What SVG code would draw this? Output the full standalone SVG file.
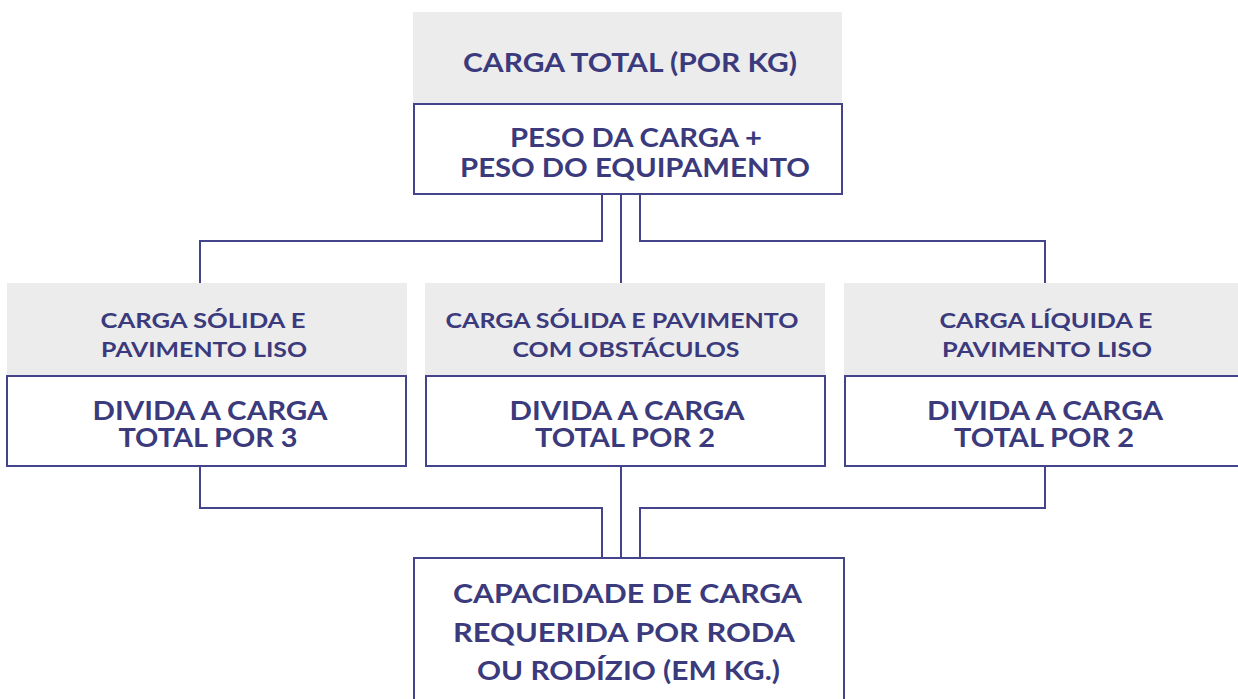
<svg xmlns="http://www.w3.org/2000/svg" width="1238" height="699" viewBox="0 0 1238 699">
<style>
.hdr{fill:#ececec;}
.box{fill:#ffffff;stroke:#44448a;stroke-width:2;}
.conn{fill:none;stroke:#44448a;stroke-width:2;}
text{font-family:Lato,"Open Sans","Liberation Sans",sans-serif;font-weight:bold;fill:#3a3a7c;text-anchor:middle;}
.t26{font-size:26.5px;}
.t21{font-size:21px;}
.t28{font-size:27px;}
</style>
<rect width="1238" height="699" fill="#ffffff"/>
<g id="connectors">
<path class="conn" d="M602 194 V241 H200 V283"/>
<path class="conn" d="M621 194 V283"/>
<path class="conn" d="M640 194 V241 H1045 V283"/>
<path class="conn" d="M200 466 V508 H602 V558"/>
<path class="conn" d="M621 466 V558"/>
<path class="conn" d="M1045 466 V508 H640 V558"/>
</g>
<g id="top">
<rect class="hdr" x="413" y="12" width="429" height="91"/>
<rect class="box" x="414" y="104" width="428" height="90"/>
<text class="t26" x="630" y="72" textLength="334" lengthAdjust="spacingAndGlyphs">CARGA TOTAL (POR KG)</text>
<text class="t26" x="636" y="147" textLength="252" lengthAdjust="spacingAndGlyphs">PESO DA CARGA +</text>
<text class="t26" x="635" y="177" textLength="350" lengthAdjust="spacingAndGlyphs">PESO DO EQUIPAMENTO</text>
</g>
<g id="left">
<rect class="hdr" x="7" y="283" width="400" height="93"/>
<rect class="box" x="7" y="376" width="399" height="90"/>
<text class="t21" x="203" y="328" textLength="205" lengthAdjust="spacingAndGlyphs">CARGA SÓLIDA E</text>
<text class="t21" x="204" y="357" textLength="206" lengthAdjust="spacingAndGlyphs">PAVIMENTO LISO</text>
<text class="t28" x="210" y="420" textLength="235" lengthAdjust="spacingAndGlyphs">DIVIDA A CARGA</text>
<text class="t28" x="208" y="447" textLength="179" lengthAdjust="spacingAndGlyphs">TOTAL POR 3</text>
</g>
<g id="middle">
<rect class="hdr" x="425" y="283" width="400" height="93"/>
<rect class="box" x="426" y="376" width="399" height="90"/>
<text class="t21" x="622" y="328" textLength="353" lengthAdjust="spacingAndGlyphs">CARGA SÓLIDA E PAVIMENTO</text>
<text class="t21" x="626" y="357" textLength="227" lengthAdjust="spacingAndGlyphs">COM OBSTÁCULOS</text>
<text class="t28" x="627" y="420" textLength="235" lengthAdjust="spacingAndGlyphs">DIVIDA A CARGA</text>
<text class="t28" x="625" y="447" textLength="180" lengthAdjust="spacingAndGlyphs">TOTAL POR 2</text>
</g>
<g id="right">
<rect class="hdr" x="844" y="283" width="400" height="93"/>
<rect class="box" x="845" y="376" width="399" height="90"/>
<text class="t21" x="1046" y="328" textLength="213" lengthAdjust="spacingAndGlyphs">CARGA LÍQUIDA E</text>
<text class="t21" x="1047" y="357" textLength="210" lengthAdjust="spacingAndGlyphs">PAVIMENTO LISO</text>
<text class="t28" x="1045" y="420" textLength="236" lengthAdjust="spacingAndGlyphs">DIVIDA A CARGA</text>
<text class="t28" x="1044" y="447" textLength="180" lengthAdjust="spacingAndGlyphs">TOTAL POR 2</text>
</g>
<g id="bottom">
<rect class="box" x="414" y="558" width="430" height="160"/>
<text class="t28" x="627.5" y="603" textLength="349" lengthAdjust="spacingAndGlyphs">CAPACIDADE DE CARGA</text>
<text class="t28" x="624" y="642" textLength="342" lengthAdjust="spacingAndGlyphs">REQUERIDA POR RODA</text>
<text class="t28" x="628.5" y="680" textLength="303" lengthAdjust="spacingAndGlyphs">OU RODÍZIO (EM KG.)</text>
</g>
</svg>
